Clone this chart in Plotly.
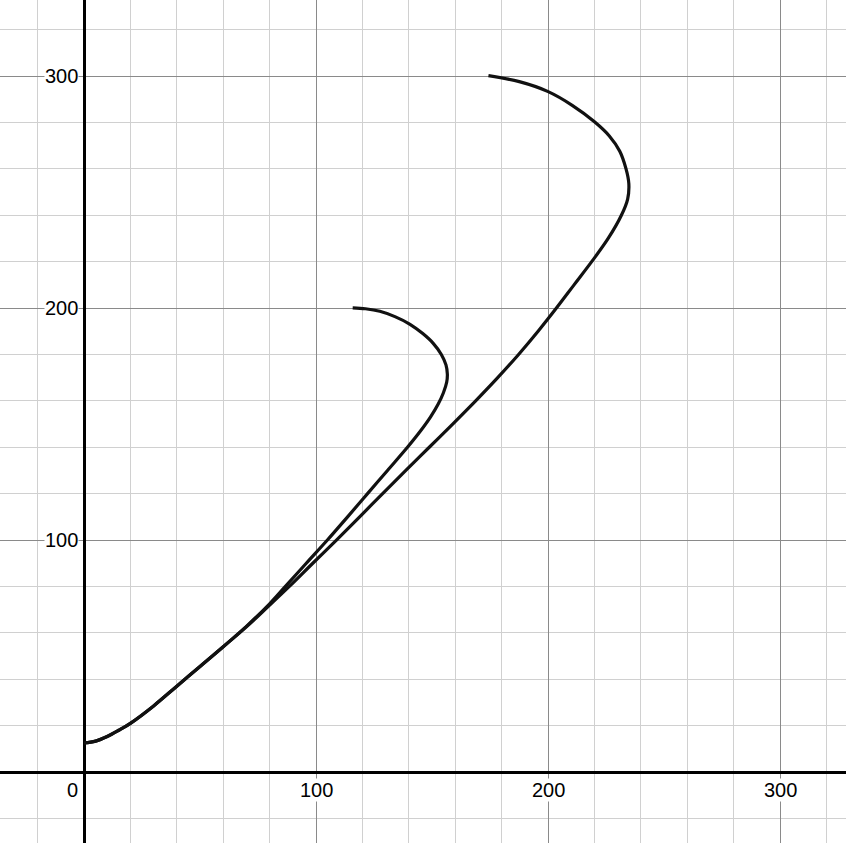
import plotly.graph_objects as go

# Inner curve (ends at ~(116, 200))
inner_x = [0, 5, 10, 15, 20, 30, 40, 50, 60, 70, 80, 86.8, 95.8, 104.9, 113.6, 122.2, 130.8,
           139.4, 145, 149.3, 152.6, 154.9, 156.3, 156.6, 156, 154, 150.5, 146, 140.5,
           134, 127.5, 121.3, 115.8]
inner_y = [12.5, 13.3, 15.3, 18, 21, 28.5, 37, 45.5, 54, 62.8, 72.5, 80, 90, 100, 110, 120, 130,
           140, 147, 153, 158.5, 163.5, 168, 171.5, 175.5, 180, 184.8, 189, 193,
           196.3, 198.6, 199.7, 200.1]

# Outer curve (ends at ~(174, 300))
outer_x = [0, 5, 10, 15, 20, 30, 40, 50, 60, 70, 79, 88.5, 98.6, 108.8, 118.8, 128.7, 138.7,
           148.8, 158.9, 168.8, 178.3, 187.3, 195.7, 203.6, 211.2, 218.8, 225.9, 231.6, 234.3,
           234.8, 233.6, 230.9, 226.4, 220, 210.4, 199.8, 187.6, 174.3]
outer_y = [12.5, 13.3, 15.3, 18, 21, 28.5, 37, 45.5, 54, 62.6, 71, 80, 90, 100, 110, 120, 130,
           140, 150, 160, 170, 180, 190, 200, 210, 220, 230, 240, 247,
           253.7, 260, 267.6, 274.2, 280.3, 287.4, 293.4, 297.6, 300.2]

x_tick_vals = [0, 100, 200, 300]
x_tick_text = ["0", "100", "200", "300"]
y_tick_vals = [100, 200, 300]
y_tick_text = ["100", "200", "300"]

fig = go.Figure()
for xs, ys in [(inner_x, inner_y), (outer_x, outer_y)]:
    fig.add_trace(go.Scatter(x=xs, y=ys, mode="lines",
                             line=dict(color="#111111", width=3.2, shape="spline", smoothing=1.0),
                             hoverinfo="skip"))

font = dict(family="Liberation Sans, Arial, sans-serif", size=20, color="black")
annotations = []
for v, t in zip(x_tick_vals, x_tick_text):
    annotations.append(dict(x=v, y=0, xref="x", yref="y", text=t, showarrow=False,
                            xanchor="right" if v == 0 else "center", yanchor="top",
                            xshift=-5 if v == 0 else 0, yshift=-6,
                            bgcolor="white", borderpad=0, font=font))
for v, t in zip(y_tick_vals, y_tick_text):
    annotations.append(dict(x=0, y=v, xref="x", yref="y", text=t, showarrow=False,
                            xanchor="right", yanchor="middle", xshift=-5,
                            bgcolor="white", borderpad=0, font=font))

axis_common = dict(
    dtick=100, tick0=0, showgrid=True, gridcolor="#8a8a8a", gridwidth=1,
    minor=dict(dtick=20, tick0=0, showgrid=True, gridcolor="#d0d0d0", gridwidth=1),
    zeroline=True, zerolinecolor="black", zerolinewidth=2.8,
    showticklabels=False, ticks="", showline=False, fixedrange=True,
)

fig.update_layout(
    width=846, height=843,
    margin=dict(l=0, r=0, t=0, b=0),
    paper_bgcolor="white", plot_bgcolor="white",
    showlegend=False,
    xaxis=dict(range=[-36.2, 328.4], **axis_common),
    yaxis=dict(range=[-30.6, 332.8], **axis_common),
    annotations=annotations,
)

fig.write_html("out.html",
               config={"displayModeBar": False},
               post_script="document.body.style.margin='0px';document.body.style.padding='0px';")
